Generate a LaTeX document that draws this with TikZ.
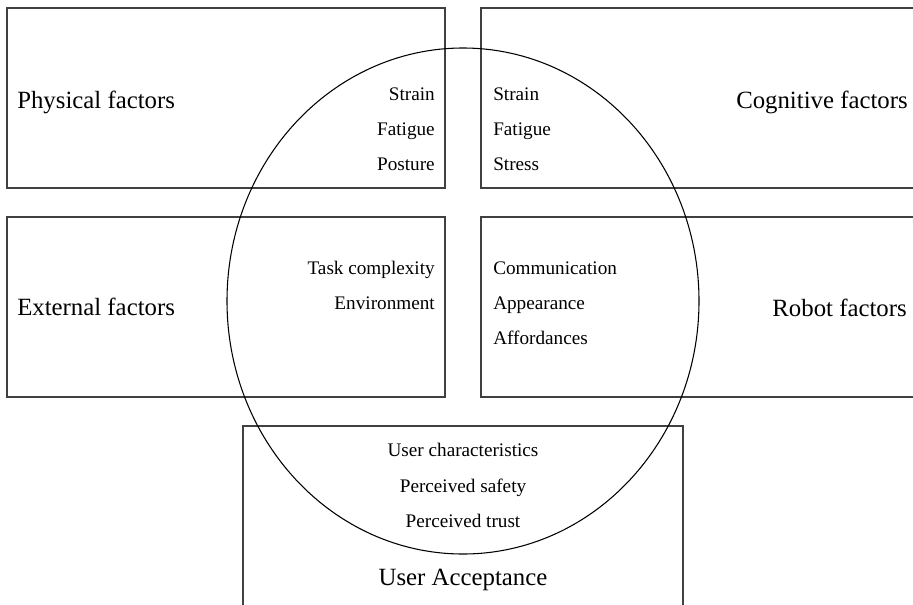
\documentclass[tikz,border=0pt]{standalone}
\usepackage{fontspec}
\setmainfont{Liberation Serif}
\usetikzlibrary{fit}

\begin{document}
\begin{tikzpicture}
    [x=0.75pt, y=-0.75pt,
    factorbox/.style={draw=black!75, line width=1.1pt, inner sep=0pt},
    title/.style={font=\fontsize{18.6}{22}\selectfont, inner sep=0pt},
    item/.style={font=\fontsize{14.4}{17}\selectfont, inner sep=0pt}]
    \useasboundingbox (0,0) rectangle (913,604);
    \clip (0,0) rectangle (913,604);
    % boxes
    \node[factorbox, fit={(7,8) (445,188)}] (physical) {};
    \node[factorbox, fit={(481,8) (925,188)}] (cognitive) {};
    \node[factorbox, fit={(7,217) (445,397)}] (external) {};
    \node[factorbox, fit={(481,217) (925,397)}] (robot) {};
    \node[factorbox, fit={(243,426) (683,620)}] (acceptance) {};
    % circle
    \draw[line width=0.8pt] (463,301) ellipse [x radius=236, y radius=253];
    % titles
    \node[title, anchor=base west] (physicalname) at (17,108) {Physical factors};
    \node[title, anchor=base east] (cognitivename) at (908,108) {Cognitive factors};
    \node[title, anchor=base west] (externalname) at (17,315) {External factors};
    \node[title, anchor=base east] (robotname) at (907,316) {Robot factors};
    \node[title, anchor=base] (acceptancename) at (463,585) {User Acceptance};
    % items
    \foreach \t [count=\i] in {Strain, Fatigue, Posture}
      \node[item, anchor=base east] (phys\i) at (435, {65.5+35*\i}) {\t};
    \foreach \t [count=\i] in {Strain, Fatigue, Stress}
      \node[item, anchor=base west] (cogn\i) at (493, {65.5+35*\i}) {\t};
    \foreach \t [count=\i] in {Task complexity, Environment}
      \node[item, anchor=base east] (extn\i) at (435, {240+34.7*\i}) {\t};
    \foreach \t [count=\i] in {Communication, Appearance, Affordances}
      \node[item, anchor=base west] (robo\i) at (493, {240+34.7*\i}) {\t};
    \foreach \t [count=\i] in {User characteristics, Perceived safety, Perceived trust}
      \node[item, anchor=base] (user\i) at (463, {421.5+35.3*\i}) {\t};
  \end{tikzpicture}
\end{document}
